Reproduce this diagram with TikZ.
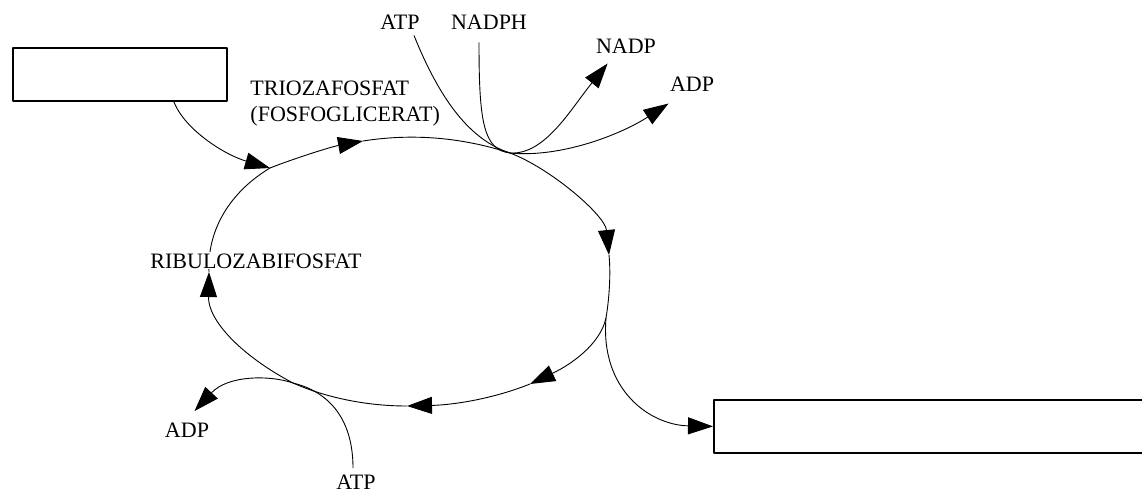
\documentclass[tikz,border=0pt]{standalone}
\usepackage{fontspec}
\setmainfont{Liberation Serif}
\usetikzlibrary{arrows.meta,calc}
\tikzset{
  lbl/.style={inner sep=0pt,font=\fontsize{22}{26.5}\selectfont},
  frame/.style={draw,line width=1.8pt,inner sep=0pt,anchor=north west},
  tip/.style={-{Triangle[length=25pt,width=17pt]}},
}
\begin{document}
\begin{tikzpicture}[x=1pt,y=-1pt,line width=0.9pt,line join=round]
\useasboundingbox (0,0) rectangle (1142,495);
\clip (0,0) rectangle (1142,495);
\node[frame,minimum width=214pt,minimum height=53pt] (src) at (12,47) {};
\node[frame,minimum width=440pt,minimum height=53pt] (dst) at (713,399) {};
\node[lbl,anchor=base] (atpT) at (400,30) {ATP};
\node[lbl,anchor=base] (nadph) at (489,30) {NADPH};
\node[lbl,anchor=base] (nadp) at (626,53) {NADP};
\node[lbl,anchor=base] (adpR) at (692,92) {ADP};
\node[lbl,anchor=north west,align=left] (trio) at (250,80) {TRIOZAFOSFAT\\(FOSFOGLICERAT)};
\node[lbl,anchor=base] (adpB) at (187,437) {ADP};
\node[lbl,anchor=base] (atpB) at (356,489) {ATP};
\coordinate (e) at (270,168);
\coordinate (t1) at (363,141);
\coordinate (j1) at (510,153);
\coordinate (t2) at (609,255);
\coordinate (j2) at (606,318);
\coordinate (t3) at (530,384);
\coordinate (t4) at (407,406);
\coordinate (j3) at (293,383);
\coordinate (t5) at (209,272);
\draw[tip] (e) .. controls (290,160) and (330,147) .. (t1);
\draw (t1) .. controls (420,132) and (470,140) .. (j1);
\draw[tip] (j1) .. controls (550,168) and (605,215) .. (t2);
\draw (t2) .. controls (611,275) and (609,300) .. (j2);
\draw[tip] (j2) .. controls (600,345) and (570,365) .. (t3);
\draw[tip] (t3) .. controls (490,400) and (450,405) .. (t4);
\draw (t4) .. controls (360,406) and (320,395) .. (j3);
\draw[tip] (j3) .. controls (240,355) and (208,320) .. (t5);
\draw (t5) .. controls (207,230) and (230,192) .. (e);
\draw[tip] ($(src.south west)!0.75!(src.south east)$) .. controls (185,130) and (225,155) .. (e);
\draw[tip] (j2) .. controls (600,390) and (650,425) .. (dst.west);
\draw ([shift={(-6,5)}]atpT.south east) .. controls (440,100) and (470,140) .. (j1);
\draw ([shift={(-10,12)}]nadph.south) .. controls (479,120) and (483,150) .. (j1);
\draw[tip] (j1) .. controls (545,155) and (570,110) .. ([shift={(12,10)}]nadp.south west);
\draw[tip] (j1) .. controls (560,158) and (620,135) .. ([shift={(-1,11)}]adpR.south west);
\draw[tip] (j3) .. controls (270,375) and (228,375) .. ([shift={(30,-11)}]adpB.north west);
\draw ([shift={(-3,-6)}]atpB.north) .. controls (353,420) and (330,392) .. (j3);
\node[lbl,anchor=base,fill=white,inner sep=1pt] (ribu) at (256,268) {RIBULOZABIFOSFAT};
\end{tikzpicture}
\end{document}
